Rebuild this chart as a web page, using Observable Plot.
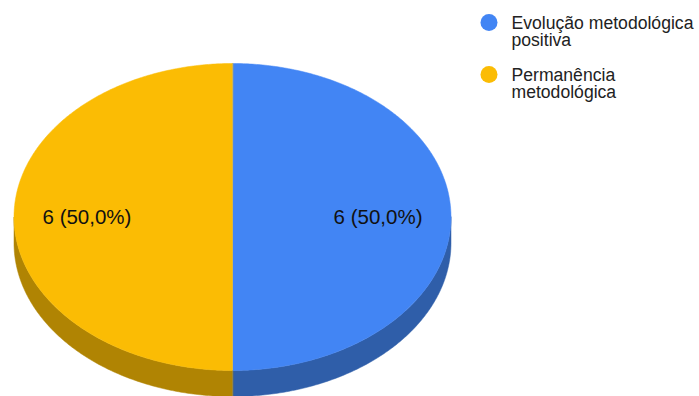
<!DOCTYPE html>
<html><head><meta charset="utf-8">
<script src="https://cdn.jsdelivr.net/npm/d3@7"></script>
<script src="https://cdn.jsdelivr.net/npm/@observablehq/plot@0.6"></script>
<style>body{margin:0;background:#fff}</style>
</head><body><div id="chart"></div>
<script>
const categories = ["Evolução metodológica positiva", "Permanência metodológica"];
const legendLabels = ["Evolução metodológica\npositiva", "Permanência\nmetodológica"];
const values = [6, 6];
const colors = ["#4285f4", "#fbbc04"];
const sideColors = ["#2f5ea9", "#b08403"];

const W = 699, H = 396;
const cx = 232, cy = 216.5, rx = 218.5, ry = 153.5, depth = 26;
const total = d3.sum(values);
const pie = d3.pie().sort(null).startAngle(0).endAngle(2 * Math.PI)(values);
const pt = (a, dy = 0) => ({x: cx + rx * Math.sin(a), y: cy - ry * Math.cos(a) + dy});
function arcPts(a0, a1, dy = 0) {
  const n = Math.max(2, Math.ceil((a1 - a0) / 0.01));
  return d3.range(n + 1).map(i => pt(a0 + (a1 - a0) * i / n, dy));
}
const tops = pie.map((p, i) => ({i, pts: [{x: cx, y: cy}, ...arcPts(p.startAngle, p.endAngle)]}));
const sides = pie.map((p, i) => {
  const a0 = Math.max(p.startAngle, Math.PI / 2), a1 = Math.min(p.endAngle, 3 * Math.PI / 2);
  if (a1 <= a0) return null;
  return {i, pts: [...arcPts(a0, a1), ...arcPts(a0, a1, depth).reverse()]};
}).filter(Boolean);
const labels = pie.map((p, i) => {
  const m = (p.startAngle + p.endAngle) / 2;
  const q = {x: cx + 0.666 * rx * Math.sin(m), y: cy + 0.5 - 0.666 * ry * Math.cos(m)};
  return {...q, text: `${values[i]} (${(values[i] / total * 100).toFixed(1).replace(".", ",")}%)`};
});
const legend = categories.map((c, i) => ({c, label: legendLabels[i], cy: 22 + i * 52}));

const marks = [];
for (const s of sides) marks.push(Plot.line(s.pts, {x: "x", y: "y", fill: sideColors[s.i], stroke: sideColors[s.i], strokeWidth: 0.5, curve: "linear-closed"}));
for (const t of tops) marks.push(Plot.line(t.pts, {x: "x", y: "y", fill: colors[t.i], stroke: colors[t.i], strokeWidth: 0.5, curve: "linear-closed"}));
marks.push(Plot.text(labels, {x: "x", y: "y", text: "text", fontSize: 20.5, fill: "#111", textAnchor: "middle"}));
marks.push(Plot.dot(legend, {x: () => 488.5, y: "cy", r: 8.5, fill: "c", stroke: null}));
marks.push(Plot.text(legend, {x: () => 511, y: d => d.cy - 6.5, text: "label", textAnchor: "start", lineAnchor: "top", lineHeight: 1.0, fontSize: 17.6, fill: "#222"}));

const chart = Plot.plot({
  width: W, height: H,
  margin: 0,
  style: {fontFamily: "'Liberation Sans', Arial, sans-serif", background: "#fff"},
  x: {domain: [0, W], range: [0, W], axis: null},
  y: {domain: [0, H], range: [0, H], axis: null},
  color: {domain: categories, range: colors},
  marks
});
document.getElementById("chart").append(chart);
</script>
</body></html>
